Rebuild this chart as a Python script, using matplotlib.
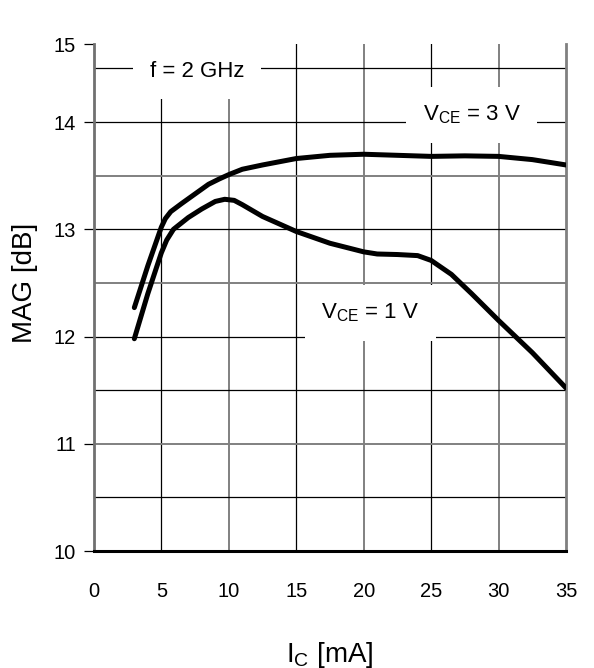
import matplotlib.pyplot as plt

plt.rcParams["font.family"] = ["Liberation Sans", "DejaVu Sans"]
plt.rcParams["mathtext.fontset"] = "custom"
plt.rcParams["mathtext.rm"] = "Liberation Sans"

# MAG vs collector current
ic_3v = [3, 4, 5, 5.3, 5.7, 6.5, 7.5, 8.5, 9.3, 10, 11, 12.5, 15, 17.5, 20, 22.5, 25, 27.5,
         30, 32.5, 35]
mag_3v = [12.27, 12.66, 13.02, 13.10, 13.165, 13.24, 13.33, 13.42, 13.47, 13.51, 13.56,
          13.60, 13.66, 13.69, 13.70, 13.69, 13.68, 13.685, 13.68, 13.65, 13.60]

ic_1v = [3, 4, 5, 5.4, 5.9, 7, 8, 9, 9.7, 10.4, 11, 12.5, 15, 17.5, 20, 21, 22.5, 24, 25,
         26.5, 28, 30, 32.5, 35]
mag_1v = [11.98, 12.40, 12.78, 12.90, 13.00, 13.11, 13.19, 13.26, 13.28, 13.27, 13.23,
          13.12, 12.98, 12.87, 12.79, 12.77, 12.765, 12.755, 12.71, 12.58, 12.40, 12.15,
          11.85, 11.52]

x_ticks = [0, 5, 10, 15, 20, 25, 30, 35]
y_ticks = [10, 11, 12, 13, 14]
y_tick_labels = ["10", "11", "12", "13", "14", "15"]
y_top = 14.727  # scanned chart is clipped just above 14.5, top edge carries the "15" label

gray_x = [10, 20, 30]
gray_y = [11, 12.5, 13.5]

fig = plt.figure(figsize=(5.94, 6.68), dpi=100)
ax = fig.add_axes([0.158, 0.175, 0.795, 0.759])

# grid, alternating black and gray like the scan
for gx in x_ticks[1:-1]:
    c, lw = ("#808080", 1.4) if gx in gray_x else ("black", 0.9)
    ax.axvline(gx, color=c, lw=lw, zorder=1)
for i in range(1, 10):
    gy = 10 + 0.5 * i
    c, lw = ("#808080", 1.4) if gy in gray_y else ("black", 0.9)
    ax.axhline(gy, color=c, lw=lw, zorder=1)

ax.plot(ic_3v, mag_3v, color="black", lw=3.6, solid_capstyle="round",
        solid_joinstyle="round", zorder=3)
ax.plot(ic_1v, mag_1v, color="black", lw=3.6, solid_capstyle="round",
        solid_joinstyle="round", zorder=3)

box = dict(boxstyle="square,pad=0.75", facecolor="white", edgecolor="none")
ax.text(7.64, 14.47, "f = 2 GHz", fontsize=16, ha="center", va="center", bbox=box, zorder=2)
ax.text(28.0, 14.07, r"$\mathregular{V_{CE}}$ = 3 V", fontsize=16, ha="center", va="center",
        bbox=box, zorder=2)
ax.text(20.5, 12.22, r"$\mathregular{V_{CE}}$ = 1 V", fontsize=16, ha="center", va="center",
        bbox=box, zorder=2)

ax.set_xlim(0, 35)
ax.set_ylim(10, y_top)
ax.set_xticks(x_ticks)
ax.set_yticks(y_ticks + [y_top])
ax.set_yticklabels(y_tick_labels)
ax.tick_params(axis="x", length=0, pad=22, labelsize=14.5)
ax.tick_params(axis="y", length=7, width=0.9, pad=6, labelsize=14.5)

ax.spines["top"].set_visible(False)
ax.spines["left"].set_color("#707070")
ax.spines["left"].set_linewidth(2)
ax.spines["right"].set_color("#808080")
ax.spines["right"].set_linewidth(2)
ax.spines["bottom"].set_linewidth(2.2)

ax.set_xlabel(r"$\mathregular{I_C}$ [mA]", fontsize=20, labelpad=28)
ax.set_ylabel("MAG [dB]", fontsize=20)
ax.yaxis.set_label_coords(-0.118, 0.53)

plt.savefig("out.png", dpi=100)
